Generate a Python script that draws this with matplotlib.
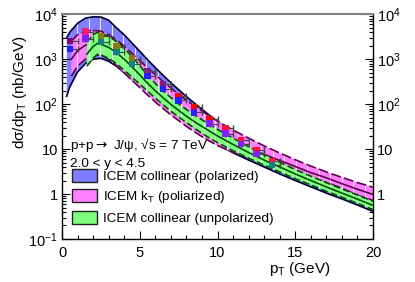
import numpy as np
import matplotlib
matplotlib.use("Agg")
from matplotlib import pyplot as plt
from matplotlib.patches import Patch
from matplotlib.ticker import FixedLocator, FuncFormatter

plt.rcParams['font.family'] = ['Liberation Sans', 'DejaVu Sans']
plt.rcParams['mathtext.fontset'] = 'custom'
plt.rcParams['mathtext.rm'] = 'Liberation Sans'
plt.rcParams['mathtext.it'] = 'Liberation Sans:italic'

# ICEM collinear (polarized)
blue_pt = [0.3, 0.5, 1, 1.5, 2, 2.5, 3, 3.5, 4, 4.5, 5, 5.5, 6, 6.5, 7, 7.5, 8, 8.5, 9, 9.5,
           10, 11, 12, 13, 14, 15, 16, 17, 18, 19, 20]
blue_hi = [3000, 4000, 6300, 8200, 8800, 8700, 7400, 5000, 3500, 2300, 1500, 980, 650, 440, 300,
           210, 148, 106, 77, 56, 41, 24, 14.5, 9, 5.8, 3.8, 2.55, 1.75, 1.22, 0.88, 0.66]
blue_lo = [150, 240, 520, 800, 1000, 1050, 900, 700, 500, 355, 250, 175, 123, 87, 63,
           47, 35, 26.5, 20, 15.7, 12.6, 8.3, 5.7, 4.0, 2.8, 2.0, 1.45, 1.05, 0.78, 0.57, 0.41]

# ICEM kT (polarized)
pink_pt = [0.6, 1, 1.5, 2, 2.5, 3, 3.5, 4, 4.5, 5, 5.5, 6, 6.5, 7, 7.5, 8, 8.5, 9, 9.5,
           10, 11, 12, 13, 14, 15, 16, 17, 18, 19, 20]
pink_hi = [2500, 3500, 4200, 4400, 4200, 3500, 2700, 1950, 1350, 930, 640, 450, 320, 230, 165,
           122, 92, 70, 54, 42, 26.5, 17.5, 11.8, 8.2, 5.8, 4.2, 3.1, 2.35, 1.8, 1.42]
pink_mid = [1000, 1550, 2050, 2300, 2290, 1870, 1390, 990, 680, 470, 320, 224, 160, 115, 84,
            62, 47, 36, 28, 22, 15, 10.7, 7.6, 5.6, 4.1, 3.0, 2.3, 1.7, 1.28, 0.98]
pink_lo = [420, 700, 1000, 1200, 1250, 1000, 720, 500, 340, 235, 160, 112, 80, 58, 43,
           32, 24.5, 19, 15, 12, 8.5, 6.5, 5.0, 3.9, 3.0, 2.3, 1.8, 1.35, 0.95, 0.72]

# ICEM collinear (unpolarized)
green_pt = [1.6, 2, 2.3, 2.5, 3, 3.5, 4, 4.5, 5, 5.5, 6, 6.5, 7, 7.5, 8, 8.5, 9, 9.5,
            10, 11, 12, 13, 14, 15, 16, 17, 18, 19, 20]
green_hi = [2400, 3500, 4000, 3800, 3200, 2500, 1750, 1150, 720, 440, 290, 200, 140, 102, 76,
            58, 45, 35, 27.5, 17.5, 11.3, 7.5, 5.1, 3.5, 2.5, 1.8, 1.3, 0.95, 0.69]
green_mid = [1300, 1920, 2280, 2180, 1830, 1410, 1000, 680, 450, 293, 199, 139, 99, 73, 54,
             41, 32, 25, 19.6, 12.7, 8.4, 5.7, 4.0, 2.8, 2.0, 1.44, 1.05, 0.77, 0.56]
green_lo = [700, 1050, 1300, 1250, 1050, 800, 570, 400, 280, 195, 137, 97, 70, 52, 39,
            29.5, 22.5, 17.5, 14, 9.2, 6.3, 4.4, 3.1, 2.2, 1.6, 1.15, 0.85, 0.62, 0.45]

# data points
data_pt = [0.5, 1.5, 2.5, 3.5, 4.5, 5.5, 6.5, 7.5, 8.5, 9.5, 10.5, 11.5, 12.5, 13.5]
data_hi = [2570, 4120, 3300, 1900, 1035, 550, 278, 152, 85, 47, 29, 16, 9.5, 5.5]
data_lo = [1670, 2890, 2430, 1450, 790, 425, 215, 122, 66, 37, 22, 13, 7.8, 4.4]
hi_colors = ['#800080', '#f0207a', '#8a7a10', '#8a7a10', '#8a7a10', '#802080', '#802080',
             '#ff0000', '#ff0000', '#ff0000', '#ff1040', '#ff1040', '#ff1040', '#ff1040']
lo_colors = ['#2020ff', '#8020ff', '#108080', '#108080', '#108080', '#2020ff', '#2020ff',
             '#2020ff', '#3020ff', '#8020ff', '#8020ff', '#8020ff', '#8020ff', '#108080']

labels = ['ICEM collinear (polarized)', 'ICEM k$_{\\mathrm{T}}$ (poliarized)',
          'ICEM collinear (unpolarized)']

fig = plt.figure(figsize=(4.15, 2.82), dpi=100)
ax = fig.add_axes([0.1494, 0.1525, 0.7494, 0.7968])

stripes = np.arange(0.24, 20, 0.74)


def band(x, lo, hi, fc, lc, ls, z, mid=None):
    poly = ax.fill_between(x, lo, hi, facecolor=fc, edgecolor='none', zorder=z)
    vl = ax.vlines(stripes, 0.1, 1e4, colors='white', lw=0.7, alpha=0.85, zorder=z + 0.05)
    vl.set_clip_path(poly.get_paths()[0], poly.get_transform())
    ax.plot(x, hi, color=lc, ls=ls, lw=1.2, zorder=z + 0.1)
    ax.plot(x, lo, color=lc, ls=ls, lw=1.2, zorder=z + 0.1)
    if mid is not None:
        ax.plot(x, mid, color=lc, ls='-', lw=1.2, zorder=z + 0.1)


band(blue_pt, blue_lo, blue_hi, '#7f7fff', '#000030', '-', 1)
band(pink_pt, pink_lo, pink_hi, '#ff80ff', '#600050', (0, (6, 2)), 2, pink_mid)
band(green_pt, green_lo, green_hi, '#80ff80', '#005000', (0, (4, 2)), 3, green_mid)

xr = [[0] * len(data_pt), [0.5] * len(data_pt)]
ax.errorbar(data_pt, data_hi, xerr=xr, fmt='none', ecolor='#444444', elinewidth=0.8,
            capsize=2, zorder=4)
ax.errorbar(data_pt, data_lo, xerr=xr, fmt='none', ecolor='#444444', elinewidth=0.8,
            capsize=2, zorder=4)
ax.scatter(data_pt, data_hi, c=hi_colors, marker='s', s=22, linewidths=0, zorder=5)
ax.scatter(data_pt, data_lo, c=lo_colors, marker='s', s=22, linewidths=0, zorder=5)

ax.set_xlim(0, 20)
ax.set_yscale('log')
ax.set_ylim(0.1, 1e4)

ax.xaxis.set_major_locator(FixedLocator([0, 5, 10, 15, 20]))
ax.xaxis.set_minor_locator(FixedLocator(np.arange(0, 21, 1)))


def yfmt(v, pos):
    if v == 1:
        return '1'
    if v == 10:
        return '10'
    return '$10^{%d}$' % int(round(np.log10(v)))


ax.set_yticks([0.1, 1, 10, 100, 1000, 10000])
ax.yaxis.set_major_formatter(FuncFormatter(yfmt))
ax.tick_params(axis='y', which='both', direction='in', left=True, right=True,
               labelleft=True, labelright=True, labelsize=10.5, pad=3)
ax.tick_params(axis='x', which='both', direction='in', top=False, labelsize=10.5, pad=5)
ax.tick_params(which='major', length=6, width=0.8)
ax.tick_params(which='minor', length=3, width=0.8)
ax.yaxis.get_major_ticks()[0].label2.set_visible(False)

for s in ['left', 'bottom', 'right']:
    ax.spines[s].set_linewidth(1.0)
ax.spines['top'].set_color('#808080')
ax.spines['top'].set_linewidth(1.5)

fig.text(300 / 415, 1 - 273 / 282, 'p$_{\\mathrm{T}}$ (GeV)', ha='center', va='baseline',
         fontsize=11)
fig.text(20 / 415, 1 - 92 / 282, 'd\u03c3/dp$_{\\mathrm{T}}$ (nb/GeV)', ha='center',
         va='center', rotation=90, fontsize=11)

ax.text(70 / 415, 1 - 149.5 / 282, 'p+p$\\rightarrow$ J/\u03c8, \u221as = 7 TeV',
        transform=fig.transFigure, fontsize=9.7, va='baseline', ha='left',
        math_fontfamily='dejavusans')
ax.text(70 / 415, 1 - 167 / 282, '2.0 < y < 4.5', transform=fig.transFigure,
        fontsize=9.7, va='baseline', ha='left')

handles = [Patch(facecolor='#7f7fff', edgecolor='#202020', lw=1),
           Patch(facecolor='#ff80ff', edgecolor='#202020', lw=1),
           Patch(facecolor='#80ff80', edgecolor='#202020', lw=1)]
ax.legend(handles, labels, loc='upper left', bbox_to_anchor=(71.7 / 415, 1 - 169 / 282),
          bbox_transform=fig.transFigure, frameon=False, fontsize=9.7, borderpad=0,
          borderaxespad=0, handlelength=1.86, handleheight=1.08, handletextpad=0.5,
          labelspacing=0.45)

fig.savefig('out.png', dpi=100)
